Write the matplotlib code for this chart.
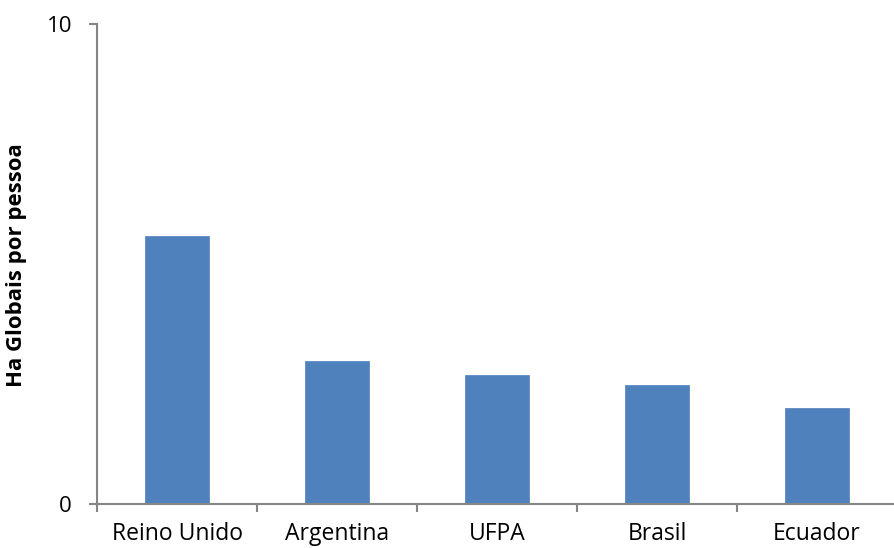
import matplotlib.pyplot as plt
import numpy as np

categories = ["Reino Unido", "Argentina", "UFPA", "Brasil", "Ecuador"]
values = [5.58, 2.98, 2.69, 2.48, 2.0]
y_ticks = [0, 10]

plt.rcParams["font.family"] = ["Open Sans", "DejaVu Sans"]

fig = plt.figure(figsize=(8.94, 5.48), dpi=100)
ax = fig.add_axes([97 / 894, 44 / 548, 800 / 894, 480 / 548])

x = np.arange(len(categories))
ax.bar(x, values, width=0.4, color="#4F81BD", edgecolor="#4F81BD", linewidth=0.5)

ax.set_xlim(-0.5, len(categories) - 0.5)
ax.set_ylim(0, 10)

# spines like the spreadsheet style
for side in ["top", "right"]:
    ax.spines[side].set_visible(False)
for side in ["left", "bottom"]:
    ax.spines[side].set_color("#868686")
    ax.spines[side].set_linewidth(1.5)

ax.set_yticks(y_ticks)
ax.set_yticklabels([str(t) for t in y_ticks], fontsize=16)
ax.tick_params(axis="y", direction="out", length=6, width=1.5, color="#868686", pad=12)

# separators between categories, labels at centers
ax.set_xticks(np.arange(-0.5, len(categories), 1.0))
ax.set_xticklabels([])
ax.set_xticks(x, minor=True)
ax.set_xticklabels(categories, minor=True, fontsize=16.5)
ax.tick_params(axis="x", which="major", direction="out", length=6, width=1.5, color="#868686")
ax.tick_params(axis="x", which="minor", length=0, pad=13)

ax.set_ylabel("Ha Globais por pessoa", fontsize=16, fontweight="bold")
ax.yaxis.set_label_coords(-0.0875, 0.498)

fig.savefig("out.png", dpi=100)
